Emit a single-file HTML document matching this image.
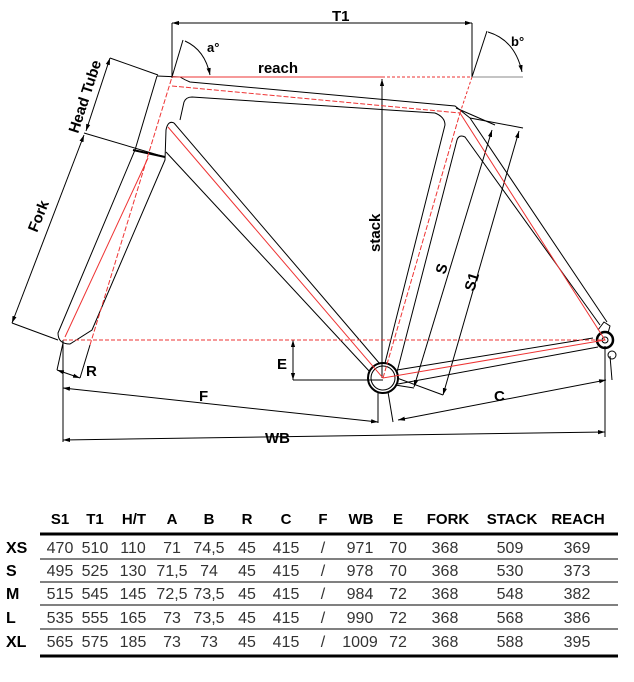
<!DOCTYPE html>
<html><head><meta charset="utf-8"><style>
body{margin:0;background:#fff;width:634px;height:682px;overflow:hidden}
svg{position:absolute;left:0;top:0}
text{font-family:"Liberation Sans",Arial,sans-serif;font-weight:bold}
.t text{font-family:"Liberation Sans Narrow","Liberation Sans",Arial,sans-serif;font-size:16px;fill:#333;font-weight:normal;font-stretch:condensed}
</style></head><body>
<svg width="634" height="682" viewBox="0 0 634 682">
<defs><marker id="a" viewBox="0 0 10 10" refX="10" refY="5" markerWidth="7" markerHeight="7" orient="auto-start-reverse"><path d="M0,2 L10,5 L0,8z" fill="#000"/></marker></defs>
<g stroke="#000" stroke-width="1" fill="none">
<line x1="172" y1="23" x2="472" y2="23" marker-start="url(#a)" marker-end="url(#a)"/>
<line x1="172" y1="23" x2="172" y2="78"/><line x1="472" y1="23" x2="472" y2="77"/>
<line x1="172" y1="77" x2="183" y2="40"/><path d="M185,41 Q205,50 210,75" marker-end="url(#a)"/>
<line x1="472" y1="77" x2="487" y2="31"/><line x1="472" y1="77" x2="523" y2="77" stroke="#888"/><path d="M488,32 Q515,40 522,72" marker-end="url(#a)"/>
<line x1="382" y1="378" x2="382" y2="79" marker-end="url(#a)"/>
<line x1="110" y1="58" x2="86" y2="131" marker-start="url(#a)" marker-end="url(#a)"/>
<line x1="110" y1="58" x2="158" y2="75"/><line x1="84" y1="133" x2="165" y2="157"/>
<line x1="84" y1="135" x2="12" y2="323" marker-start="url(#a)" marker-end="url(#a)"/>
<line x1="12" y1="323" x2="58" y2="340"/>
<line x1="133" y1="150" x2="165" y2="157" stroke-width="2"/>
<path d="M157,76 L135,150 L58,333 Q58,344 70,344 L92,330 L165,160 L166,130 Q168,120 174,123"/>
<path d="M157,76 L180,77 Q185,80 190,82 L455,106 L470,118"/>
<path d="M180,120 L184,102 Q186,97 192,97 L435,113 Q445,117 445,125 L385,363"/>
<path d="M174,123 L380,364"/><path d="M166,152 L370,372"/>
<path d="M397,372 L457,140 Q459,134 465,137 L600,325"/>
<path d="M470,118 L607,322"/>
<path d="M398,384 L598,347"/><path d="M397,370 L593,338"/>
<circle cx="383" cy="378" r="15" stroke-width="2"/><circle cx="383" cy="378" r="12"/>
<circle cx="605" cy="340" r="8" stroke-width="2.5"/><circle cx="605" cy="340" r="3"/>
<circle cx="612" cy="355" r="4"/><path d="M598,330 L604,322 L610,326 L608,333"/>
<line x1="456" y1="108" x2="495" y2="125"/><line x1="470" y1="118" x2="523" y2="128"/>
<line x1="492" y1="130" x2="414" y2="387" marker-start="url(#a)" marker-end="url(#a)"/>
<line x1="519" y1="131" x2="443" y2="395" marker-start="url(#a)" marker-end="url(#a)"/>
<line x1="397" y1="378" x2="443" y2="395"/><line x1="395" y1="385" x2="414" y2="388"/>
<line x1="398" y1="420" x2="606" y2="380" marker-start="url(#a)" marker-end="url(#a)"/>
<line x1="605" y1="346" x2="605" y2="437"/><line x1="610" y1="356" x2="612" y2="380"/>
<line x1="63" y1="388" x2="378" y2="422" marker-start="url(#a)" marker-end="url(#a)"/>
<line x1="63" y1="340" x2="63" y2="442"/><line x1="378" y1="392" x2="378" y2="423"/><line x1="388" y1="392" x2="393" y2="422"/>
<line x1="63" y1="440" x2="605" y2="432" marker-start="url(#a)" marker-end="url(#a)"/>
<line x1="293" y1="340" x2="293" y2="380" marker-start="url(#a)" marker-end="url(#a)"/>
<line x1="293" y1="380" x2="383" y2="380"/>
<line x1="63" y1="343" x2="57" y2="370"/><line x1="57" y1="370" x2="80" y2="378" marker-start="url(#a)" marker-end="url(#a)"/>
<line x1="80" y1="378" x2="90" y2="345"/>
</g>
<g stroke="#e33" stroke-width="1" fill="none">
<line x1="172" y1="77" x2="382" y2="77"/>
<line x1="382" y1="77" x2="472" y2="77" stroke-dasharray="3,2"/>
<line x1="63" y1="340" x2="605" y2="340" stroke-dasharray="4,2"/>
<path d="M90,345 L172,77" stroke-dasharray="5,2"/>
<path d="M65,337 L148,158"/>
<path d="M172,86 L460,113 L383,378" stroke-dasharray="5,2"/>
<path d="M472,77 L460,113" stroke-dasharray="3,2"/>
<path d="M168,127 L383,378 L605,340 L460,113"/>
</g>
<g font-size="15" fill="#000">
<text x="332" y="21">T1</text>
<text x="258" y="73">reach</text>
<text x="207" y="52" font-size="13">a°</text>
<text x="511" y="46" font-size="13">b°</text>
<text transform="translate(380,252) rotate(-90)">stack</text>
<text transform="translate(445,275) rotate(-73)">S</text>
<text transform="translate(474,292) rotate(-73)">S1</text>
<text transform="translate(78,134) rotate(-72)">Head Tube</text>
<text transform="translate(37,233) rotate(-68)">Fork</text>
<text x="86" y="376">R</text>
<text x="277" y="369">E</text>
<text x="199" y="401">F</text>
<text x="494" y="401">C</text>
<text x="265" y="443">WB</text>
</g>
<g font-size="15" fill="#000" text-anchor="middle">
<text x="60" y="524">S1</text><text x="95" y="524">T1</text><text x="134" y="524">H/T</text><text x="172" y="524">A</text><text x="209" y="524">B</text><text x="247" y="524">R</text><text x="286" y="524">C</text><text x="323" y="524">F</text><text x="361" y="524">WB</text><text x="398" y="524">E</text><text x="448" y="524">FORK</text><text x="512" y="524">STACK</text><text x="578" y="524">REACH</text>
<g text-anchor="start" font-size="16"><text x="6" y="553">XS</text><text x="6" y="576">S</text><text x="6" y="599">M</text><text x="6" y="623">L</text><text x="6" y="647">XL</text></g>
</g>
<g stroke="#000"><line x1="40" y1="534" x2="618" y2="534" stroke-width="3"/><line x1="40" y1="656" x2="618" y2="656" stroke-width="3"/>
<g stroke-width="1"><line x1="40" y1="559" x2="618" y2="559"/><line x1="40" y1="582" x2="618" y2="582"/><line x1="40" y1="605" x2="618" y2="605"/><line x1="40" y1="629" x2="618" y2="629"/></g></g>
<g class="t" text-anchor="middle">
<g transform="translate(0,553)"><text x="60">470</text><text x="95">510</text><text x="133">110</text><text x="172">71</text><text x="209">74,5</text><text x="247">45</text><text x="286">415</text><text x="323">/</text><text x="360">971</text><text x="398">70</text><text x="445">368</text><text x="510">509</text><text x="577">369</text></g>
<g transform="translate(0,576)"><text x="60">495</text><text x="95">525</text><text x="133">130</text><text x="172">71,5</text><text x="209">74</text><text x="247">45</text><text x="286">415</text><text x="323">/</text><text x="360">978</text><text x="398">70</text><text x="445">368</text><text x="510">530</text><text x="577">373</text></g>
<g transform="translate(0,599)"><text x="60">515</text><text x="95">545</text><text x="133">145</text><text x="172">72,5</text><text x="209">73,5</text><text x="247">45</text><text x="286">415</text><text x="323">/</text><text x="360">984</text><text x="398">72</text><text x="445">368</text><text x="510">548</text><text x="577">382</text></g>
<g transform="translate(0,623)"><text x="60">535</text><text x="95">555</text><text x="133">165</text><text x="172">73</text><text x="209">73,5</text><text x="247">45</text><text x="286">415</text><text x="323">/</text><text x="360">990</text><text x="398">72</text><text x="445">368</text><text x="510">568</text><text x="577">386</text></g>
<g transform="translate(0,647)"><text x="60">565</text><text x="95">575</text><text x="133">185</text><text x="172">73</text><text x="209">73</text><text x="247">45</text><text x="286">415</text><text x="323">/</text><text x="360">1009</text><text x="398">72</text><text x="445">368</text><text x="510">588</text><text x="577">395</text></g>
</g>
</svg>
</body></html>
